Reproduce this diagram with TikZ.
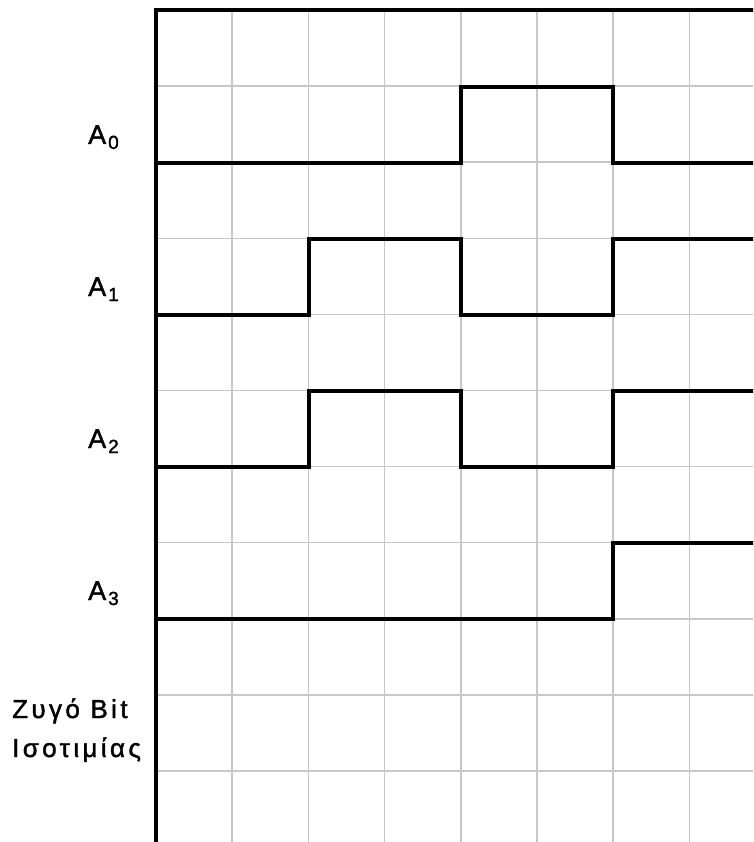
\documentclass[tikz,border=0pt]{standalone}
\usepackage{fontspec}
\setmainfont[FakeBold=1.6]{Liberation Sans}
\newfontfamily\spacedfont[LetterSpace=13,FakeBold=1.6]{Liberation Sans}
\tikzset{
  gridline/.style={draw=black!22, line width=1.5pt},
  frame/.style={draw=black, line width=3.5pt},
  signal/.style={draw=black, line width=3.5pt, line join=miter},
  siglabel/.style={font=\fontsize{27}{32}\selectfont, inner sep=0pt},
  parlabel/.style={font=\spacedfont\fontsize{26}{38}\selectfont, inner sep=0pt, align=left}
}
\newcommand{\sigA}[1]{A\kern2pt\raisebox{-5pt}{\fontsize{19}{20}\selectfont #1}}
\begin{document}
\begin{tikzpicture}[x=1pt,y=-1pt]
\useasboundingbox (0,0) rectangle (753,842);
\begin{scope}
\clip (0,0) rectangle (753,842);
% grid
\foreach \i in {1,...,8} {
  \draw[gridline] ({156+76.2*\i},10) -- ({156+76.2*\i},842);
}
\foreach \j in {1,...,11} {
  \draw[gridline] (156,{10+76.1*\j}) -- (753,{10+76.1*\j});
}
% frame
\draw[frame] (156,842) -- (156,10) -- (760,10);
% signals
\draw[signal] (156,163) -- (461,163) -- (461,87) -- (613,87) -- (613,163) -- (760,163);
\draw[signal] (156,315) -- (309,315) -- (309,239) -- (461,239) -- (461,315) -- (613,315) -- (613,239) -- (760,239);
\draw[signal] (156,467) -- (309,467) -- (309,391) -- (461,391) -- (461,467) -- (613,467) -- (613,391) -- (760,391);
\draw[signal] (156,619) -- (613,619) -- (613,543) -- (760,543);
\end{scope}
% labels
\node[siglabel, anchor=base west] (a0) at (88,144) {\sigA{0}};
\node[siglabel, anchor=base west] (a1) at (88,296) {\sigA{1}};
\node[siglabel, anchor=base west] (a2) at (88,448) {\sigA{2}};
\node[siglabel, anchor=base west] (a3) at (88,600) {\sigA{3}};
\node[parlabel, anchor=base west] (zb) at (12,718) {Ζυγό Bit};
\node[parlabel, anchor=base west] (is) at (12,757) {Ισοτιμίας};
\end{tikzpicture}
\end{document}
